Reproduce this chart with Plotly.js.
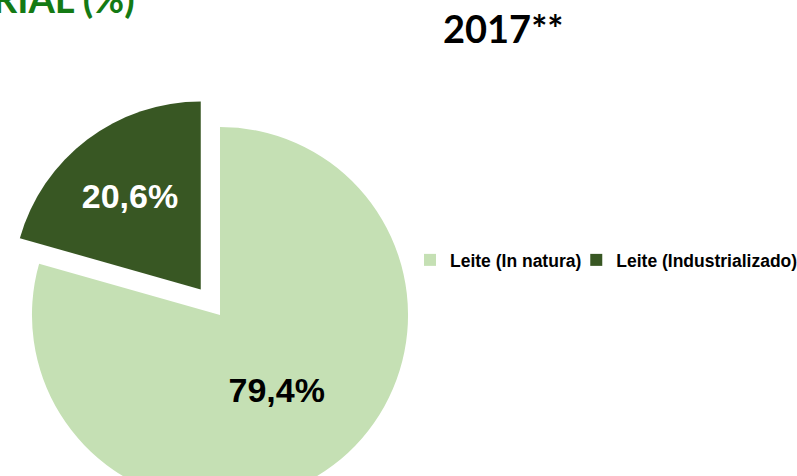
<!DOCTYPE html>
<html>
<head>
<meta charset="utf-8">
<script src="https://cdn.plot.ly/plotly-3.0.1.min.js"></script>
<style>
  html, body { margin: 0; padding: 0; background: #fff; overflow: hidden; }
  #wrap { width: 797px; height: 476px; overflow: hidden; position: relative; }
</style>
</head>
<body>
<div id="wrap"><div id="chart"></div></div>
<script>
// ---- data ----
const categories = ['Leite (In natura)', 'Leite (Industrializado)'];
const shares = [79.4, 20.6];
const sliceColors = ['#c5e0b4', '#385723'];
const labelColors = ['#000000', '#ffffff'];
const yearTitle = '2017**';
const mainTitle = 'PARTICIPAÇÃO NO COMÉRCIO MUNDIAL SETORIAL (%)';

const W = 797, H = 550;

const trace = {
  type: 'pie',
  labels: categories,
  values: shares,
  sort: false,
  direction: 'clockwise',
  rotation: 0,
  pull: [0, 0.17],
  marker: { colors: sliceColors, line: { width: 0 } },
  textinfo: 'percent',
  texttemplate: '%{percent:.1%}',
  textposition: 'inside',
  insidetextorientation: 'horizontal',
  insidetextfont: { family: 'Liberation Sans, Arial, sans-serif', size: 34, weight: 'bold', color: labelColors },
  hoverinfo: 'skip',
  domain: { x: [0, 440 / W], y: [3 / H, 467 / H] }
};

const layout = {
  width: W,
  height: H,
  margin: { l: 0, r: 0, t: 0, b: 0, autoexpand: false },
  paper_bgcolor: '#ffffff',
  plot_bgcolor: '#ffffff',
  separators: ',.',
  showlegend: true,
  legend: {
    orientation: 'h',
    x: 420 / W,
    xanchor: 'left',
    y: 1 - 260 / H,
    yanchor: 'middle',
    font: { family: 'Liberation Sans, Arial, sans-serif', size: 17.5, weight: 'bold', color: '#000000' },
    itemwidth: 30,
    indentation: -10,
    traceorder: 'normal'
  },
  annotations: [
    {
      text: yearTitle,
      xref: 'paper', yref: 'paper',
      x: 503 / W, y: 1 - 28 / H,
      xanchor: 'center', yanchor: 'middle',
      showarrow: false,
      font: { family: 'Lato, Noto Sans, sans-serif', size: 38, weight: 'bold', color: '#000000' }
    },
    {
      text: mainTitle,
      xref: 'paper', yref: 'paper',
      x: 137 / W, y: 1 + 2 / H,
      xanchor: 'right', yanchor: 'middle',
      showarrow: false,
      font: { family: 'Lato, Noto Sans, sans-serif', size: 38, weight: 'bold', color: '#147a14' }
    }
  ]
};

Plotly.newPlot('chart', [trace], layout, { displayModeBar: false, staticPlot: true });
</script>
</body>
</html>
